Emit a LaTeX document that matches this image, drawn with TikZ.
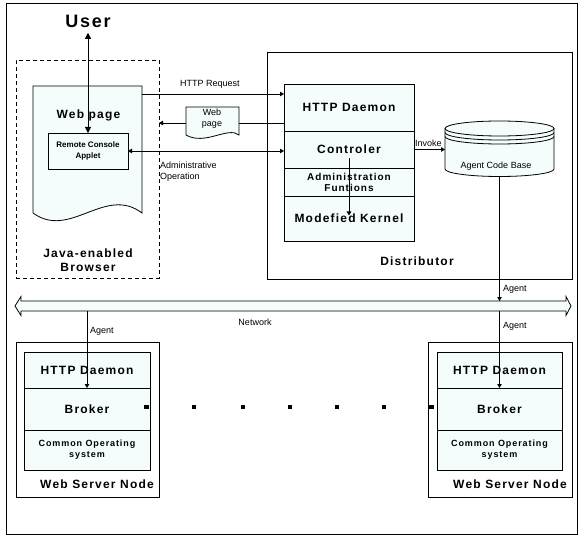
\documentclass[tikz,border=0pt]{standalone}
\usepackage{fontspec}
\setmainfont{Liberation Sans}
\newfontfamily\wsf[LetterSpace=10]{Liberation Sans}
\usetikzlibrary{arrows.meta,calc}
\definecolor{lc}{RGB}{244,252,252}
\begin{document}
\begin{tikzpicture}[x=1pt,y=-1pt,
 every node/.style={inner sep=0pt,outer sep=0pt},
 box/.style={draw,line width=0.8pt,anchor=north west},
 sect/.style={box,fill=lc},
 btxt/.style={font=\wsf\bfseries\fontsize{12}{14}\selectfont,align=center},
 mtxt/.style={font=\wsf\bfseries\fontsize{10}{11}\selectfont,align=center},
 ctxt/.style={font=\wsf\bfseries\fontsize{9}{11}\selectfont,align=center},
 stxt/.style={font=\fontsize{9}{11}\selectfont},
 ln/.style={line width=0.8pt},
 arr/.style={ln,-{Triangle[length=4pt,width=4.5pt]}},
 darr/.style={ln,{Triangle[length=4pt,width=4.5pt]}-{Triangle[length=4pt,width=4.5pt]}},
 uarr/.style={ln,{Triangle[length=6pt,width=6pt]}-{Triangle[length=6pt,width=6pt]}},
 dotsq/.style={fill=black,minimum size=4.5pt}
]
\useasboundingbox (0,0) rectangle (586,540);
% outer frame
\node[box,minimum width=571pt,minimum height=531pt] (frame) at (6,3) {};

% browser
\node[box,dash pattern=on 4pt off 3pt,minimum width=143pt,minimum height=218pt] (browser) at (16,60) {};
\node[btxt,font=\wsf\bfseries\fontsize{12}{14}\selectfont] (browserlbl) at (88,260) {Java-enabled\\Browser};
\node[anchor=north west,minimum width=109pt,minimum height=127pt] (wp) at (33,86) {};
\draw[ln,fill=lc] (wp.north west) -- (wp.north east) -- (142,213) .. controls (105,185) and (70,240) .. (33,213) -- cycle;
\node[btxt] (wptxt) at (88.5,115) {Web page};
\node[sect,font=\bfseries\fontsize{8}{11}\selectfont,align=center,minimum width=80pt,minimum height=36pt] (applet) at (48,133) {Remote Console\\Applet};
\node[btxt,font=\wsf\bfseries\fontsize{18}{20}\selectfont] (user) at (88,21.5) {User};

% distributor
\node[box,minimum width=305pt,minimum height=227pt] (dist) at (267,52) {};
\node[btxt] (distlbl) at (417,261) {Distributor};
\node[sect,btxt,minimum width=130pt,minimum height=47pt] (dhttp) at (284,84) {HTTP Daemon};
\node[sect,btxt,minimum width=130pt,minimum height=37pt] (dctrl) at (284,131) {Controler};
\node[sect,mtxt,minimum width=130pt,minimum height=28pt] (dadm) at (284,168) {Administration\\Funtions};
\node[sect,btxt,minimum width=130pt,minimum height=45pt] (dkern) at (284,196) {Modefied Kernel};

% cylinder
\node[anchor=north west,minimum width=109pt,minimum height=56pt] (cyl) at (445,121) {};
\fill[lc] (445,128.5) -- (445,169) arc[start angle=180,end angle=360,x radius=54.5pt,y radius=7.5pt] -- (554,128.5) arc[start angle=0,end angle=180,x radius=54.5pt,y radius=7.5pt] -- cycle;
\draw[ln] (445,128.5) -- (445,169) arc[start angle=180,end angle=360,x radius=54.5pt,y radius=7.5pt] -- (554,128.5);
\draw[ln] (499.5,128.5) ellipse [x radius=54.5pt,y radius=7.5pt];
\draw[ln] (445,132.5) arc[start angle=180,end angle=360,x radius=54.5pt,y radius=7.5pt];
\draw[ln] (445,136.5) arc[start angle=180,end angle=360,x radius=54.5pt,y radius=7.5pt];
\node[stxt] (cyltxt) at (496,166) {Agent Code Base};

% network
\node[anchor=north west,minimum width=545pt,minimum height=10pt] (net) at (21,301) {};
\draw[ln,fill=lc] (15,306) -- (21,296.5) -- (21,301) -- (566,301) -- (566,296.5) -- (571,306) -- (566,315.5) -- (566,311) -- (21,311) -- (21,315.5) -- cycle;
\node[stxt] (netlbl) at (255,322) {Network};

% web server nodes
\node[box,minimum width=143pt,minimum height=155pt] (lwsn) at (16,342) {};
\node[sect,btxt,minimum width=126pt,minimum height=36pt] (lhttp) at (24,352) {HTTP Daemon};
\node[sect,btxt,minimum width=126pt,minimum height=42pt] (lbroker) at (24,388) {Broker};
\node[sect,ctxt,minimum width=126pt,minimum height=40pt] (los) at (24,430) {Common Operating\\system};
\node[btxt] (lwsnlbl) at (97,484) {Web Server Node};

\node[box,minimum width=144pt,minimum height=155pt] (rwsn) at (428,342) {};
\node[sect,btxt,minimum width=125pt,minimum height=36pt] (rhttp) at (437,352) {HTTP Daemon};
\node[sect,btxt,minimum width=125pt,minimum height=42pt] (rbroker) at (437,388) {Broker};
\node[sect,ctxt,minimum width=125pt,minimum height=40pt] (ros) at (437,430) {Common Operating\\system};
\node[btxt] (rwsnlbl) at (510,484) {Web Server Node};

% dots
\foreach \x [count=\i] in {146.5,194,243,290,337,384,431.5}
  \node[dotsq] (dot\i) at (\x,407) {};

% connectors
\coordinate (hreq) at (0,94);
\coordinate (wret) at (0,123);
\draw[uarr] ([yshift=-5pt]user.south) -- (applet.north);
\draw[arr] (wp.east |- hreq) -- (dhttp.west |- hreq);
\node[stxt] (hreqlbl) at (210,84) {HTTP Request};
\draw[arr] (dhttp.west |- wret) -- (browser.east |- wret);
\node[anchor=north west,minimum width=53pt,minimum height=28pt] (swp) at (186,107) {};
\draw[ln,fill=lc] (swp.north west) -- (swp.north east) -- (239,135) .. controls (228,126) and (205,146) .. (186,135) -- cycle;
\node[stxt,align=center] (swptxt) at (212,118.5) {Web\\page};
\draw[darr] (applet.east) -- (applet.east -| dctrl.west);
\node[stxt,align=left,anchor=north west] (admlbl) at (160,162) {Administrative\\Operation};
\draw[arr] ([yshift=-9pt]dctrl.center) -- ([yshift=3pt]dkern.center);
\draw[arr] (dctrl.east) -- (dctrl.east -| cyl.west);
\node[stxt,anchor=south west] (invlbl) at (415,147) {Invoke};
\draw[arr] (cyl.south) -- (cyl.south |- net.north);
\node[stxt,anchor=west] (ag1) at (503,289) {Agent};
\draw[arr] (lbroker.north |- net.south) -- (lbroker.north);
\node[stxt,anchor=west] (ag2) at (90,331) {Agent};
\draw[arr] (rbroker.north |- net.south) -- (rbroker.north);
\node[stxt,anchor=west] (ag3) at (503,326) {Agent};
\end{tikzpicture}
\end{document}
